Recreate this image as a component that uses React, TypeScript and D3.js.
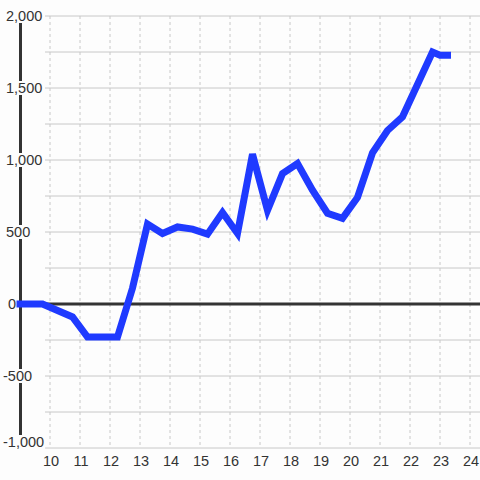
import React from "react";
import * as d3 from "d3";

const xValues = [9, 9.75, 10.75, 11.25, 12.25, 12.75, 13.25, 13.75, 14.25, 14.75, 15.25, 15.75, 16.25, 16.75, 17.25, 17.75, 18.25, 18.75, 19.25, 19.75, 20.25, 20.75, 21.25, 21.75, 22.75, 23.0, 23.25];
const yValues = [0, 0, -90, -230, -230, 110, 555, 490, 535, 520, 485, 635, 490, 1040, 650, 905, 975, 790, 630, 595, 740, 1050, 1205, 1300, 1750, 1728, 1728];
const xTicks = [10, 11, 12, 13, 14, 15, 16, 17, 18, 19, 20, 21, 22, 23, 24];
const yLabelTicks = [-1000, -500, 0, 500, 1000, 1500, 2000];
const yGridTicks = [-1000, -750, -500, -250, 0, 250, 500, 750, 1000, 1250, 1500, 1750, 2000];

const W = 480;
const H = 480;
const BG = "#fdfdfd";
const TEXT = "#333";
const GRID = "#c8c8c8";
const FONT = "'Liberation Sans', Arial, sans-serif";
const FS = 14.5;

export default function App() {
  const x = d3.scaleLinear().domain([9, 24]).range([20, 470]);
  const y = d3.scaleLinear().domain([-1000, 2000]).range([448, 16]);
  const fmt = (v: number) => d3.format(",")(v).replace("\u2212", "-");
  const data = xValues.map((v, i) => [v, yValues[i]] as [number, number]);
  const line = d3.line<[number, number]>().x((d) => x(d[0])).y((d) => y(d[1]));

  const labelWidth = (s: string) => {
    let w = 0;
    for (const c of s) w += c === "," ? 0.278 : c === "-" ? 0.333 : 0.556;
    return w * FS;
  };

  return (
    <svg
      width={W}
      height={H}
      style={{ position: "absolute", left: 0, top: 0, background: BG }}
    >
      <rect x={0} y={0} width={W} height={H} fill={BG} />
      {yGridTicks.map((t) => (
        <line key={"h" + t} x1={45} x2={W} y1={y(t)} y2={y(t)} stroke={GRID} strokeWidth={1} />
      ))}
      {xTicks.map((t) => (
        <line
          key={"v" + t}
          x1={x(t)}
          x2={x(t)}
          y1={y(2000)}
          y2={y(-1000) - 2}
          stroke={GRID}
          strokeWidth={1}
          strokeDasharray="3,3"
        />
      ))}
      <line x1={20.5} x2={20.5} y1={y(2000)} y2={y(-1000)} stroke={TEXT} strokeWidth={3} />
      <line x1={20} x2={W} y1={y(0)} y2={y(0)} stroke={TEXT} strokeWidth={3} />
      {yLabelTicks.map((t) => {
        const s = fmt(t);
        const sx = t === 0 ? 8 : t < 0 ? 3 : 6;
        const base = Math.min(y(t) + 5, 447);
        const w = labelWidth(s);
        return (
          <g key={"yl" + t}>
            <rect x={sx - 1} y={base - 12} width={w + 2} height={14} fill={BG} />
            <text x={sx} y={base} fontFamily={FONT} fontSize={FS} fill={TEXT}>
              {s}
            </text>
          </g>
        );
      })}
      {xTicks.map((t) => (
        <text
          key={"xl" + t}
          x={x(t) + 1}
          y={466}
          textAnchor="middle"
          fontFamily={FONT}
          fontSize={FS}
          fill={TEXT}
        >
          {t}
        </text>
      ))}
      <path
        d={line(data) || ""}
        fill="none"
        stroke="#1f3aff"
        strokeWidth={7}
        strokeLinecap="square"
        strokeLinejoin="miter"
      />
    </svg>
  );
}
